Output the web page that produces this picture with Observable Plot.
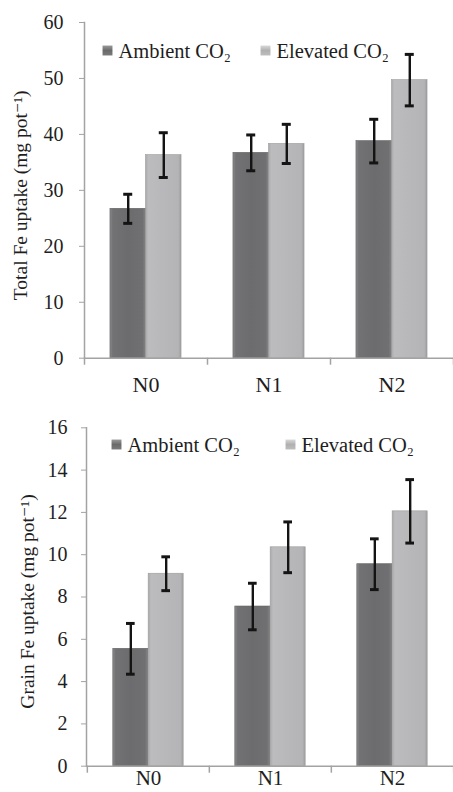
<!DOCTYPE html>
<html><head><meta charset="utf-8">
<script src="https://cdn.jsdelivr.net/npm/d3@7"></script>
<script src="https://cdn.jsdelivr.net/npm/@observablehq/plot@0.6"></script>
<style>
body{margin:0;background:#fff;font-family:"Liberation Serif","DejaVu Serif",serif;}
svg{display:block;}
svg text { font-family: "Liberation Serif", "DejaVu Serif", serif !important; }
</style>
</head><body><div id="chart"></div>
<script>
const categories = ["N0", "N1", "N2"];
const seriesNames = ["Ambient CO₂", "Elevated CO₂"];
const totalAmbient = [26.7, 36.7, 38.8];
const totalAmbientErr = [2.6, 3.2, 3.9];
const totalElevated = [36.3, 38.3, 49.7];
const totalElevatedErr = [4.0, 3.5, 4.6];
const grainAmbient = [5.55, 7.55, 9.55];
const grainAmbientErr = [1.2, 1.1, 1.2];
const grainElevated = [9.1, 10.35, 12.05];
const grainElevatedErr = [0.8, 1.2, 1.5];
const totalTicks = [0, 10, 20, 30, 40, 50, 60];
const grainTicks = [0, 2, 4, 6, 8, 10, 12, 14, 16];
const totalTitle = "Total Fe uptake (mg pot⁻¹)";
const grainTitle = "Grain Fe uptake (mg pot⁻¹)";

const FONT = "Liberation Serif, DejaVu Serif, serif";
const AXIS = "#a3a3a3";
const TEXT = "#1e1e1e";

function makeChart(c) {
  const width = 453, height = 396, marginRight = 0;
  const step = (width - c.marginLeft - marginRight) / categories.length;
  const barW = step * 0.289;
  const outer = (step - 2 * barW) / 2;
  const capW = 9;
  const amb = categories.map((cat, i) => ({cat, v: c.amb[i], e: c.ambErr[i]}));
  const elev = categories.map((cat, i) => ({cat, v: c.elev[i], e: c.elevErr[i]}));
  const ambCenter = outer + barW / 2, elevCenter = outer + barW * 1.5;
  const capInsets = (center) => ({insetLeft: center - capW / 2, insetRight: step - center - capW / 2});
  const errMarks = (rows, center) => [
    Plot.ruleX(rows, {x: "cat", y1: d => d.v - d.e, y2: d => d.v + d.e, dx: center - step / 2, stroke: "#141414", strokeWidth: 2.4}),
    Plot.tickY(rows, {x: "cat", y: d => d.v + d.e, ...capInsets(center), stroke: "#141414", strokeWidth: 3}),
    Plot.tickY(rows, {x: "cat", y: d => d.v - d.e, ...capInsets(center), stroke: "#141414", strokeWidth: 3})
  ];
  const svg = Plot.plot({
    width, height,
    marginTop: c.marginTop, marginLeft: c.marginLeft, marginRight, marginBottom: c.marginBottom,
    style: {fontFamily: FONT, fontSize: "18px", color: TEXT, background: "#fff"},
    x: {domain: categories, paddingInner: 0, paddingOuter: 0, label: null},
    y: {domain: [0, c.yMax], label: null},
    marks: [
      Plot.barY(amb, {x: "cat", y: "v", fill: `url(#${c.id}-amb)`, insetLeft: outer, insetRight: outer + barW, stroke: "#616161", strokeWidth: 0.6}),
      Plot.barY(elev, {x: "cat", y: "v", fill: `url(#${c.id}-elev)`, insetLeft: outer + barW, insetRight: outer, stroke: "#9c9c9c", strokeWidth: 0.6}),
      ...errMarks(amb, ambCenter),
      ...errMarks(elev, elevCenter),
      Plot.ruleY([0], {stroke: AXIS, strokeWidth: 1.5}),
      Plot.frame({anchor: "left", stroke: AXIS, strokeWidth: 1.5}),
      Plot.axisY({ticks: c.yTicks, tickSize: 5, tickPadding: c.yPad, stroke: AXIS, fill: TEXT, fontSize: 20, fontFamily: FONT, label: null}),
      Plot.axisX({tickSize: 0, tickPadding: c.xPad, fill: TEXT, fontSize: c.xFont, fontFamily: FONT, label: null}),
      Plot.axisX(categories, {tickSize: 7, tickFormat: () => "", dx: -step / 2, stroke: AXIS, strokeWidth: 1.5, label: null}),
      Plot.axisX(categories.slice(-1), {tickSize: 7, tickFormat: () => "", dx: step / 2, stroke: AXIS, strokeWidth: 1.5, label: null}),
      Plot.text([c.title], {text: d => d, frameAnchor: "left", textAnchor: "middle", lineAnchor: "middle", rotate: -90, dx: c.titleDx, dy: c.titleDy, fontSize: 19.5, fontFamily: FONT, fill: TEXT}),
      Plot.dot([seriesNames[0]], {frameAnchor: "top-left", dx: c.leg[0], dy: c.leg[2], symbol: "square", r: 5.6, fill: `url(#${c.id}-lamb)`}),
      Plot.text([seriesNames[0]], {text: d => d, frameAnchor: "top-left", dx: c.leg[0] + 11, dy: c.leg[2] + 1, textAnchor: "start", lineAnchor: "middle", fontSize: 20.5, fontFamily: FONT, fill: TEXT}),
      Plot.dot([seriesNames[1]], {frameAnchor: "top-left", dx: c.leg[1], dy: c.leg[2], symbol: "square", r: 5.6, fill: `url(#${c.id}-lelev)`}),
      Plot.text([seriesNames[1]], {text: d => d, frameAnchor: "top-left", dx: c.leg[1] + 11, dy: c.leg[2] + 1, textAnchor: "start", lineAnchor: "middle", fontSize: 20.5, fontFamily: FONT, fill: TEXT})
    ]
  });
  d3.select(svg).insert("defs", ":first-child").html(`
    <linearGradient id="${c.id}-amb" x1="0" x2="1" y1="0" y2="0">
      <stop offset="0" stop-color="#8a8a8c"/><stop offset="0.08" stop-color="#727274"/>
      <stop offset="0.5" stop-color="#6c6c6e"/><stop offset="0.92" stop-color="#707072"/>
      <stop offset="1" stop-color="#858587"/></linearGradient>
    <linearGradient id="${c.id}-elev" x1="0" x2="1" y1="0" y2="0">
      <stop offset="0" stop-color="#a9a9ab"/><stop offset="0.08" stop-color="#bcbcbe"/>
      <stop offset="0.5" stop-color="#b8b8ba"/><stop offset="0.92" stop-color="#b4b4b6"/>
      <stop offset="1" stop-color="#9e9ea0"/></linearGradient>
    <linearGradient id="${c.id}-lamb" x1="0" x2="0" y1="0" y2="1">
      <stop offset="0" stop-color="#9a9a9a"/><stop offset="0.5" stop-color="#6a6a6a"/><stop offset="1" stop-color="#7a7a7a"/></linearGradient>
    <linearGradient id="${c.id}-lelev" x1="0" x2="0" y1="0" y2="1">
      <stop offset="0" stop-color="#d8d8d8"/><stop offset="0.5" stop-color="#b0b0b0"/><stop offset="1" stop-color="#bdbdbd"/></linearGradient>`);
  return svg;
}

const root = document.getElementById("chart");
root.append(makeChart({
  id: "total", amb: totalAmbient, ambErr: totalAmbientErr, elev: totalElevated, elevErr: totalElevatedErr,
  yMax: 60, yTicks: totalTicks, title: totalTitle,
  marginTop: 22, marginLeft: 84, marginBottom: 38.3, yPad: 16, xPad: 18, xFont: 22,
  titleDx: -64, titleDy: 5, leg: [23, 181, 28]
}));
root.append(makeChart({
  id: "grain", amb: grainAmbient, ambErr: grainAmbientErr, elev: grainElevated, elevErr: grainElevatedErr,
  yMax: 16, yTicks: grainTicks, title: grainTitle,
  marginTop: 31.3, marginLeft: 86, marginBottom: 26.3, yPad: 14, xPad: 4, xFont: 21,
  titleDx: -59, titleDy: 4.5, leg: [30, 204, 16.7]
}));
</script>
</body></html>
